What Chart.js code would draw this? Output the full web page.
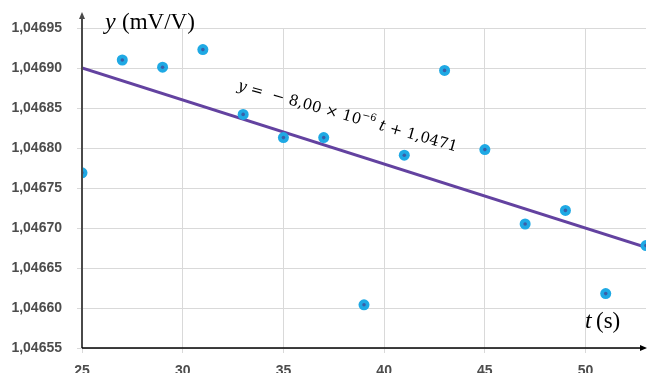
<!DOCTYPE html>
<html>
<head>
<meta charset="utf-8">
<script src="https://cdn.jsdelivr.net/npm/chart.js@4.4.0/dist/chart.umd.min.js"></script>
<style>
  html, body { margin: 0; padding: 0; background: #fff; }
  #wrap { width: 656px; height: 373px; }
</style>
</head>
<body>
<div id="wrap"><canvas id="ScatterChart"></canvas></div>
<script>
const times = [25, 27, 29, 31, 33, 35, 37, 39, 41, 43, 45, 47, 49, 51, 53];
const values = [1.046769, 1.046910, 1.046901, 1.046923, 1.046842, 1.046813, 1.046813,
  1.046604, 1.046791, 1.046897, 1.046798, 1.046705, 1.046722, 1.046618, 1.046678];
const slope = -8.00e-6;
const intercept = 1.0471;
const xTicks = [25, 30, 35, 40, 45, 50];
const yTicks = [1.04655, 1.04660, 1.04665, 1.04670, 1.04675, 1.04680, 1.04685, 1.04690, 1.04695];

const points = times.map((t, i) => ({ x: t, y: values[i] }));
const trend = [times[0], times[times.length - 1]].map(t => ({ x: t, y: slope * t + intercept }));

const fmt = v => v.toFixed(5).replace('.', ',');

// arrows, axis titles and equation
const extras = {
  id: 'extras',
  afterDraw(chart) {
    const { ctx, chartArea: a, scales } = chart;
    ctx.save();
    // y axis with arrow
    ctx.strokeStyle = '#4a4a4a';
    ctx.fillStyle = '#4a4a4a';
    ctx.lineWidth = 2;
    ctx.beginPath();
    ctx.moveTo(a.left, a.bottom);
    ctx.lineTo(a.left, 16);
    ctx.stroke();
    ctx.beginPath();
    ctx.moveTo(a.left, 12);
    ctx.lineTo(a.left - 3, 19);
    ctx.lineTo(a.left + 3, 19);
    ctx.closePath();
    ctx.fill();
    // x axis with arrow
    ctx.strokeStyle = '#000';
    ctx.fillStyle = '#000';
    ctx.lineWidth = 1.5;
    ctx.beginPath();
    ctx.moveTo(a.left, a.bottom);
    ctx.lineTo(a.right - 3, a.bottom);
    ctx.stroke();
    ctx.beginPath();
    ctx.moveTo(a.right + 1, a.bottom);
    ctx.lineTo(a.right - 6, a.bottom - 3);
    ctx.lineTo(a.right - 6, a.bottom + 3);
    ctx.closePath();
    ctx.fill();

    // axis titles
    ctx.fillStyle = '#000';
    ctx.textBaseline = 'alphabetic';
    ctx.textAlign = 'left';
    ctx.font = 'italic 24px "Liberation Serif"';
    ctx.fillText('y', 105, 29);
    ctx.font = '23px "Liberation Serif"';
    ctx.fillText('(mV/V)', 122, 29);
    ctx.font = 'italic 24px "Liberation Serif"';
    ctx.fillText('t', 585, 328);
    ctx.font = '23px "Liberation Serif"';
    ctx.fillText('(s)', 596, 328);

    // equation along the trend line
    const x0 = scales.x.getPixelForValue(32.7);
    const y0 = scales.y.getPixelForValue(1.046873);
    ctx.translate(x0, y0);
    ctx.rotate(15.8 * Math.PI / 180);
    const parts = [
      ['italic 15px "DejaVu Serif"', 'y', 0],
      ['15px "DejaVu Serif"', ' =  − 8,00 × 10', 0],
      ['10px "DejaVu Serif"', '−6', -7],
      ['15px "DejaVu Serif"', ' ', 0],
      ['italic 15px "DejaVu Serif"', 't', 0],
      ['15px "DejaVu Serif"', ' + 1,0471', 0]
    ];
    let cx = 0;
    parts.forEach(([f, s, dy]) => {
      ctx.font = f;
      ctx.fillText(s, cx, dy);
      cx += ctx.measureText(s).width;
    });
    ctx.restore();
  }
};

new Chart(document.getElementById('ScatterChart'), {
  type: 'scatter',
  data: {
    datasets: [
      {
        type: 'line',
        data: trend,
        borderColor: '#6342a0',
        borderWidth: 3,
        pointRadius: 0,
        fill: false,
        order: 3
      },
      {
        data: points,
        backgroundColor: '#1fa9e4',
        borderWidth: 0,
        pointRadius: 5.5,
        order: 2
      },
      {
        data: points,
        backgroundColor: '#3a5fa8',
        borderWidth: 0,
        pointRadius: 1.8,
        order: 1
      }
    ]
  },
  options: {
    responsive: true,
    maintainAspectRatio: false,
    animation: false,
    layout: { padding: { top: 28, right: 10, left: 0, bottom: 0 } },
    plugins: { legend: { display: false }, tooltip: { enabled: false } },
    scales: {
      x: {
        type: 'linear',
        min: 25,
        max: 53,
        afterBuildTicks: s => { s.ticks = xTicks.map(v => ({ value: v })); },
        afterFit: s => { s.height = 25; },
        grid: { color: '#d9d9d9', lineWidth: 1, tickLength: 5, tickColor: '#d9d9d9' },
        border: { display: false },
        ticks: {
          padding: 10,
          color: '#4d4d4d',
          font: { family: 'Liberation Sans', size: 14, weight: 'bold' }
        }
      },
      y: {
        min: 1.04655,
        max: 1.04695,
        afterBuildTicks: s => { s.ticks = yTicks.map(v => ({ value: v })); },
        afterFit: s => { s.width = 82; },
        grid: { color: '#d9d9d9', lineWidth: 1, tickLength: 5, tickColor: '#d9d9d9' },
        border: { display: false },
        ticks: {
          padding: 15,
          color: '#4d4d4d',
          callback: v => fmt(v),
          font: { family: 'Liberation Sans', size: 14, weight: 'bold' }
        }
      }
    }
  },
  plugins: [extras]
});
</script>
</body>
</html>
